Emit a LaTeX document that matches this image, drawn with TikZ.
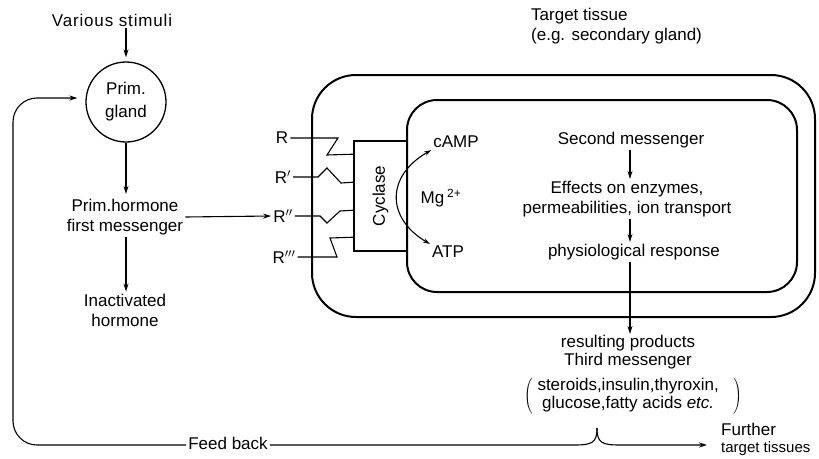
\documentclass[tikz,border=0pt]{standalone}
\usepackage{fontspec}
\setmainfont{Liberation Sans}
\usetikzlibrary{arrows.meta,positioning,calc}

\begin{document}
\begin{tikzpicture}[
  x=1pt, y=-1pt,
  every node/.style={font=\fontsize{17}{20}\selectfont},
  txt/.style={align=center, inner sep=2pt},
  gland/.style={circle, draw, line width=1.3pt, minimum size=80pt, align=center, inner sep=0pt},
  wall/.style={draw, line width=2pt},
  arrow/.style={-{Stealth[length=8pt,width=5pt]}, line width=1.1pt},
  twoway/.style={{Stealth[length=7pt,width=4.5pt]}-{Stealth[length=7pt,width=4.5pt]}, line width=1.1pt},
  wire/.style={line width=1.1pt}
]
\useasboundingbox (0,0) rectangle (819,458);

% cell of the target tissue
\draw[wall, rounded corners=44pt] (312,75) rectangle (815,317);
\draw[wall, rounded corners=30pt] (407,100) rectangle (797,292);
\node[anchor=west, align=left, inner sep=0pt] (target) at (531,26) {Target tissue\\(e.g. secondary gland)};

% primary gland column
\node[txt, font=\fontsize{17}{20}\selectfont\addfontfeature{LetterSpace=5}] (stimuli) at (112,20) {Various stimuli};
\node[gland, font=\fontsize{17}{23}\selectfont] (gland) at (126,102) {Prim.\\gland};
\node[txt] (first) at (125,217) {Prim.hormone\\first messenger};
\node[txt] (inact) at (125,310) {Inactivated\\hormone};
\draw[arrow, shorten >=4pt] (stimuli.south -| gland) -- (gland.north);
\draw[arrow, shorten >=3pt] (gland.south) -- (first.north -| gland);
\draw[arrow] (first.south -| gland) -- (inact.north -| gland);

% receptors and cyclase
\node[draw, line width=1.6pt, minimum width=53pt, minimum height=110pt, inner sep=0pt] (cyclase) at (380.5,196) {\rotatebox{90}{Cyclase}};
\node[txt] (r1) at (282,138) {R};
\node[txt] (r2) at (283,177) {R$'$};
\node[txt] (r3) at (283,216) {R$''$};
\node[txt] (r4) at (284,257) {R$'''$};
\draw[wire] (r1.east) -- (338,138) -- (327,155) -- ($(cyclase.north west)+(0,14)$);
\draw[wire] (r2.east) -- (318,177) -- (327,168) -- (341,183) -- ($(cyclase.north west)+(0,42)$);
\draw[wire] (r3.east) -- (320,216) -- (327,223) -- (340,211) -- ($(cyclase.north west)+(0,70)$);
\draw[wire] (r4.east) -- (337,257) -- (330,238) -- ($(cyclase.north west)+(0,97)$);
\draw[arrow] (first.east) -- (r3.west);

% inside the cell
\node[txt] (camp) at (456,142) {cAMP};
\node[txt] (mg) at (441,198) {Mg\,\textsuperscript{2+}};
\node[txt] (atp) at (448,252) {ATP};
\draw[twoway] (atp.north west) .. controls (386,218) and (386,176) .. (camp.south west);

\node[txt] (second) at (631,140) {Second messenger};
\node[txt] (effects) at (627,199) {Effects on enzymes,\\permeabilities, ion transport};
\node[txt] (physio) at (634,252) {physiological response};
\draw[arrow] (second.south -| 630,0) -- (effects.north -| 630,0);
\draw[arrow] (effects.south -| 630,0) -- (physio.north -| 630,0);

% products and feed back
\node[txt, font=\fontsize{17}{18}\selectfont, inner sep=1pt] (products) at (628,352) {resulting products\\Third messenger};
\node[txt, inner sep=0pt] (examples) at (633,396) {\renewcommand{\arraystretch}{0.92}$\left(\;\begin{tabular}{@{}c@{}}steroids,insulin,thyroxin,\\glucose,fatty acids \textit{etc.}\end{tabular}\;\;\;\right)$};
\draw[arrow] (physio.south -| 630,0) -- (products.north -| 630,0);

\coordinate (tip) at (597,428);
\coordinate (onward) at (707,445);
\node[txt] (fb) at (228,443) {Feed back};
\node[anchor=west, align=left, inner sep=0pt] (further) at (721,439) {Further\\[-3pt]{\fontsize{15}{16}\selectfont target tissues}};
\draw[wire] (tip) .. controls (597,443) and (592,445) .. (574,445) -- (fb.east |- 0,445);
\draw[arrow, rounded corners=24pt, shorten >=8pt] (fb.west |- 0,445) -- (13,445) -- (13,98) -- (gland.west |- 0,98);
\draw[arrow] (tip) .. controls (597,443) and (602,445) .. (620,445) -- (onward);
\end{tikzpicture}
\end{document}
